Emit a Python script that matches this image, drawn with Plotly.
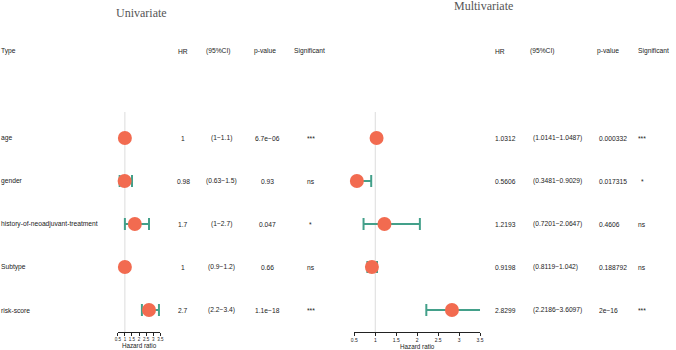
import plotly.graph_objects as go

# ---------------- data ----------------
variables = ["age", "gender", "history-of-neoadjuvant-treatment", "Subtype", "risk-score"]

uni_hr = [1.0, 0.98, 1.7, 1.0, 2.7]
uni_low = [1.0, 0.63, 1.0, 0.9, 2.2]
uni_high = [1.1, 1.5, 2.7, 1.2, 3.4]
uni_hr_txt = ["1", "0.98", "1.7", "1", "2.7"]
uni_ci_txt = ["(1−1.1)", "(0.63−1.5)", "(1−2.7)", "(0.9−1.2)", "(2.2−3.4)"]
uni_p_txt = ["6.7e−06", "0.93", "0.047", "0.66", "1.1e−18"]
uni_sig = ["***", "ns", "*", "ns", "***"]

multi_hr = [1.0312, 0.5606, 1.2193, 0.9198, 2.8299]
multi_low = [1.0141, 0.3481, 0.7201, 0.8119, 2.2186]
multi_high = [1.0487, 0.9029, 2.0647, 1.042, 3.6097]
multi_hr_txt = ["1.0312", "0.5606", "1.2193", "0.9198", "2.8299"]
multi_ci_txt = ["(1.0141−1.0487)", "(0.3481−0.9029)", "(0.7201−2.0647)", "(0.8119−1.042)", "(2.2186−3.6097)"]
multi_p_txt = ["0.000332", "0.017315", "0.4606", "0.188792", "2e−16"]
multi_sig = ["***", "*", "ns", "ns", "***"]

tick_vals = [0.5, 1, 1.5, 2, 2.5, 3, 3.5]
tick_text = ["0.5", "1", "1.5", "2", "2.5", "3", "3.5"]

# ---------------- layout helpers ----------------
W, H = 676, 350
row_px0, row_step = 138.0, 43.0
axis_px = 332.0
y_top = -row_px0 / row_step
y_bot = (axis_px - row_px0) / row_step
rows = list(range(len(variables)))

def py(pix):
    return (pix - row_px0) / row_step

MARK = "#F26B50"
TEAL = "#43A08A"
FONT = "Liberation Sans, Arial, sans-serif"
FS = 6.7

fig = go.Figure()

fig.add_trace(go.Scatter(
    x=uni_hr, y=rows, mode="markers", xaxis="x", yaxis="y", cliponaxis=False,
    marker=dict(size=14, color=MARK, line=dict(width=0)),
    error_x=dict(type="data", symmetric=False,
                 array=[h - m for h, m in zip(uni_high, uni_hr)],
                 arrayminus=[m - l for m, l in zip(uni_hr, uni_low)],
                 color=TEAL, thickness=2, width=6),
    showlegend=False, hoverinfo="skip"))

fig.add_trace(go.Scatter(
    x=multi_hr, y=rows, mode="markers", xaxis="x2", yaxis="y", cliponaxis=False,
    marker=dict(size=14, color=MARK, line=dict(width=0)),
    error_x=dict(type="data", symmetric=False,
                 array=[h - m for h, m in zip(multi_high, multi_hr)],
                 arrayminus=[m - l for m, l in zip(multi_hr, multi_low)],
                 color=TEAL, thickness=2, width=6),
    showlegend=False, hoverinfo="skip"))

# reference lines at HR = 1
for xr in ["x", "x2"]:
    fig.add_shape(type="line", xref=xr, yref="y", x0=1, x1=1, y0=py(112), y1=y_bot,
                  line=dict(color="#dcdcdc", width=1), layer="below")

ann = []
def txt(x, y, s, anchor="center", size=FS, color="#222", font=FONT):
    ann.append(dict(x=x / W, y=y, xref="paper", yref="y", text=s, showarrow=False,
                    xanchor=anchor, yanchor="middle", borderpad=0, borderwidth=0,
                    font=dict(size=size, color=color, family=font)))

hdr = py(51)
# Univariate header
txt(-2, hdr, "Type", "left")
txt(182, hdr, "HR")
txt(218, hdr, "(95%CI)")
txt(265, hdr, "p-value")
txt(310, hdr, "Significant")
# Multivariate header
txt(497, hdr, "HR", "left")
txt(533, hdr, "(95%CI)", "left")
txt(600, hdr, "p-value", "left")
txt(642, hdr, "Significant", "left")

for i in rows:
    txt(-2, i, variables[i], "left")
    txt(182, i, uni_hr_txt[i])
    txt(221, i, uni_ci_txt[i])
    txt(267, i, uni_p_txt[i])
    txt(311, i, uni_sig[i])
    txt(497, i, multi_hr_txt[i], "left")
    txt(536, i, multi_ci_txt[i], "left")
    txt(602, i, multi_p_txt[i], "left")
    txt(646, i, multi_sig[i])

# titles
txt(140, py(13), "Univariate", size=12, color="#555", font="Liberation Serif, DejaVu Serif, serif")
txt(486, py(6), "Multivariate", size=12, color="#555", font="Liberation Serif, DejaVu Serif, serif")

axis_common = dict(range=[0.5, 3.5], tickvals=tick_vals, ticktext=tick_text,
                   showline=True, linecolor="#222", linewidth=1, ticks="outside",
                   ticklen=3, tickwidth=1, tickcolor="#222", showgrid=False,
                   zeroline=False, anchor="y", fixedrange=True)

fig.update_layout(
    width=W, height=H, margin=dict(l=0, r=0, t=0, b=0),
    paper_bgcolor="white", plot_bgcolor="white",
    xaxis=dict(domain=[116 / W, 159 / W], tickfont=dict(size=4.5, family=FONT, color="#222"),
               title=dict(text="Hazard ratio", font=dict(size=6.3, family=FONT, color="#222"), standoff=1),
               **axis_common),
    xaxis2=dict(domain=[355 / W, 482 / W], tickfont=dict(size=5, family=FONT, color="#222"),
                title=dict(text="Hazard ratio", font=dict(size=6.3, family=FONT, color="#222"), standoff=1),
                **axis_common),
    yaxis=dict(domain=[(H - axis_px) / H, 1], range=[y_bot, y_top], visible=False,
               fixedrange=True),
    annotations=ann,
)

fig.write_html("out.html", config={"displayModeBar": False},
               post_script="document.body.style.margin='0';document.body.style.overflow='hidden';")
